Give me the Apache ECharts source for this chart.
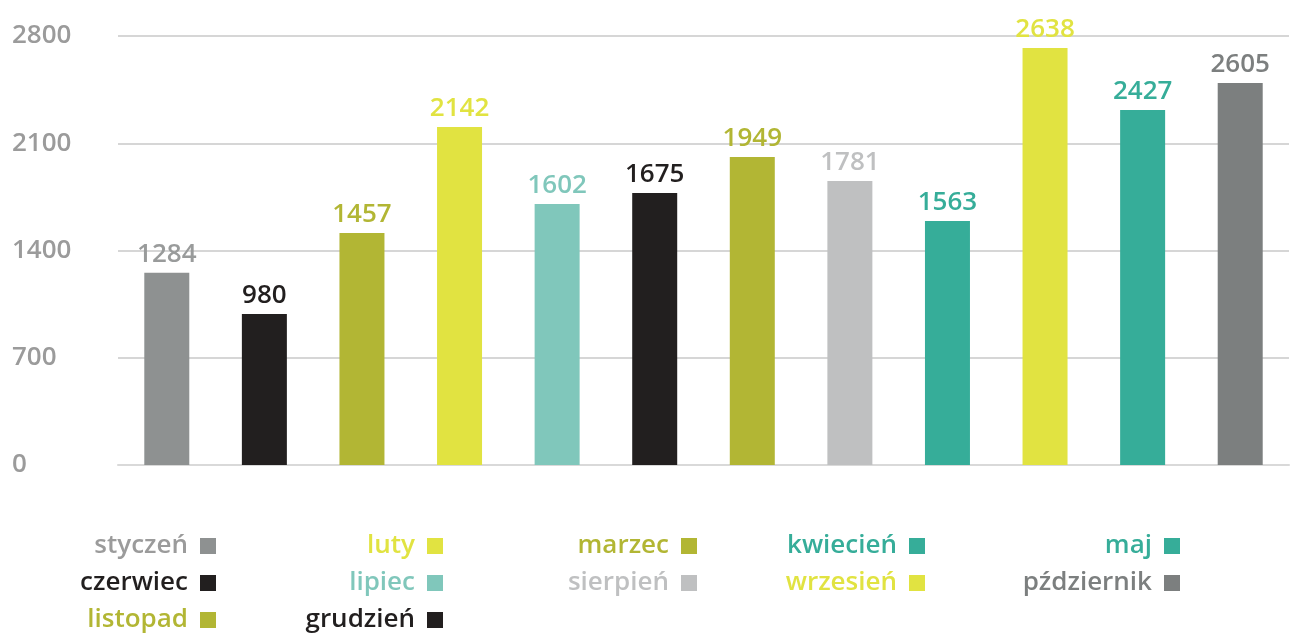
<!DOCTYPE html>
<html>
<head>
<meta charset="utf-8">
<script src="https://cdn.jsdelivr.net/npm/echarts@6/dist/echarts.min.js"></script>
<style>
  html, body { margin: 0; padding: 0; background: #fff; }
  #chart { width: 1293px; height: 634px; }
</style>
</head>
<body>
<div id="chart"></div>
<script>
// bars in the order they appear, left to right
const barMonths = ['styczeń', 'czerwiec', 'listopad', 'luty', 'lipiec', 'grudzień',
  'marzec', 'sierpień', 'kwiecień', 'wrzesień', 'maj', 'pździernik'];
const barValues = [1255, 986, 1514, 2206, 1703, 1775, 2010, 1854, 1593, 2722, 2317, 2493];
const barLabels = ['1284', '980', '1457', '2142', '1602', '1675', '1949', '1781', '1563', '2638', '2427', '2605'];
const barColors = ['#8e9191', '#221f1f', '#b2b634', '#e1e341', '#80c7bb', '#221f1f',
  '#b2b634', '#bfc0c1', '#36ad99', '#e1e341', '#36ad99', '#7c7f7f'];
const yTicks = [0, 700, 1400, 2100, 2800];

// legend columns (months read row by row, five per row)
const legendCols = [
  ['styczeń', 'czerwiec', 'listopad'],
  ['luty', 'lipiec', 'grudzień'],
  ['marzec', 'sierpień'],
  ['kwiecień', 'wrzesień'],
  ['maj', 'pździernik']
];
const legendRight = [1077, 850, 596, 368, 113];

const font = 'Open Sans';
const colorOf = name => barColors[barMonths.indexOf(name)];

const series = barMonths.map((name, i) => ({
  name: name,
  type: 'bar',
  stack: 'all',
  barWidth: 45,
  itemStyle: { color: barColors[i] },
  data: barValues.map((v, j) => (j === i ? v : '-')),
  label: {
    show: true,
    position: 'top',
    distance: 5,
    color: barColors[i] === '#8e9191' ? '#999b9b' : barColors[i],
    fontFamily: font,
    fontSize: 26,
    fontWeight: 600,
    formatter: () => barLabels[i]
  }
}));

const legends = legendCols.map((col, k) => ({
  orient: 'vertical',
  align: 'right',
  right: legendRight[k],
  top: 533,
  padding: 0,
  itemGap: 11,
  itemWidth: 16,
  itemHeight: 16,
  icon: 'rect',
  selectedMode: false,
  textStyle: { fontFamily: font, fontSize: 26, fontWeight: 600, padding: [0, 7, 0, 0] },
  data: col.map(n => ({ name: n, textStyle: { color: n === 'styczeń' ? '#9b9b9b' : colorOf(n) } }))
}));

const chart = echarts.init(document.getElementById('chart'));
chart.setOption({
  animation: false,
  grid: { left: 118, right: 4, top: 36, bottom: 169 },
  legend: legends,
  xAxis: {
    type: 'category',
    data: barMonths,
    axisLine: { lineStyle: { color: '#d9d9d9', width: 2 } },
    axisTick: { show: false },
    axisLabel: { show: false }
  },
  yAxis: {
    type: 'value',
    min: yTicks[0],
    max: yTicks[yTicks.length - 1],
    interval: yTicks[1] - yTicks[0],
    axisLine: { show: false },
    axisTick: { show: false },
    splitLine: { lineStyle: { color: '#d6d6d6', width: 2 } },
    axisLabel: {
      align: 'left',
      margin: 106,
      color: '#9b9b9b',
      fontFamily: font,
      fontSize: 26,
      fontWeight: 600,
      padding: [0, 0, 6, 0],
      formatter: v => String(v)
    }
  },
  series: series
});
</script>
</body>
</html>
